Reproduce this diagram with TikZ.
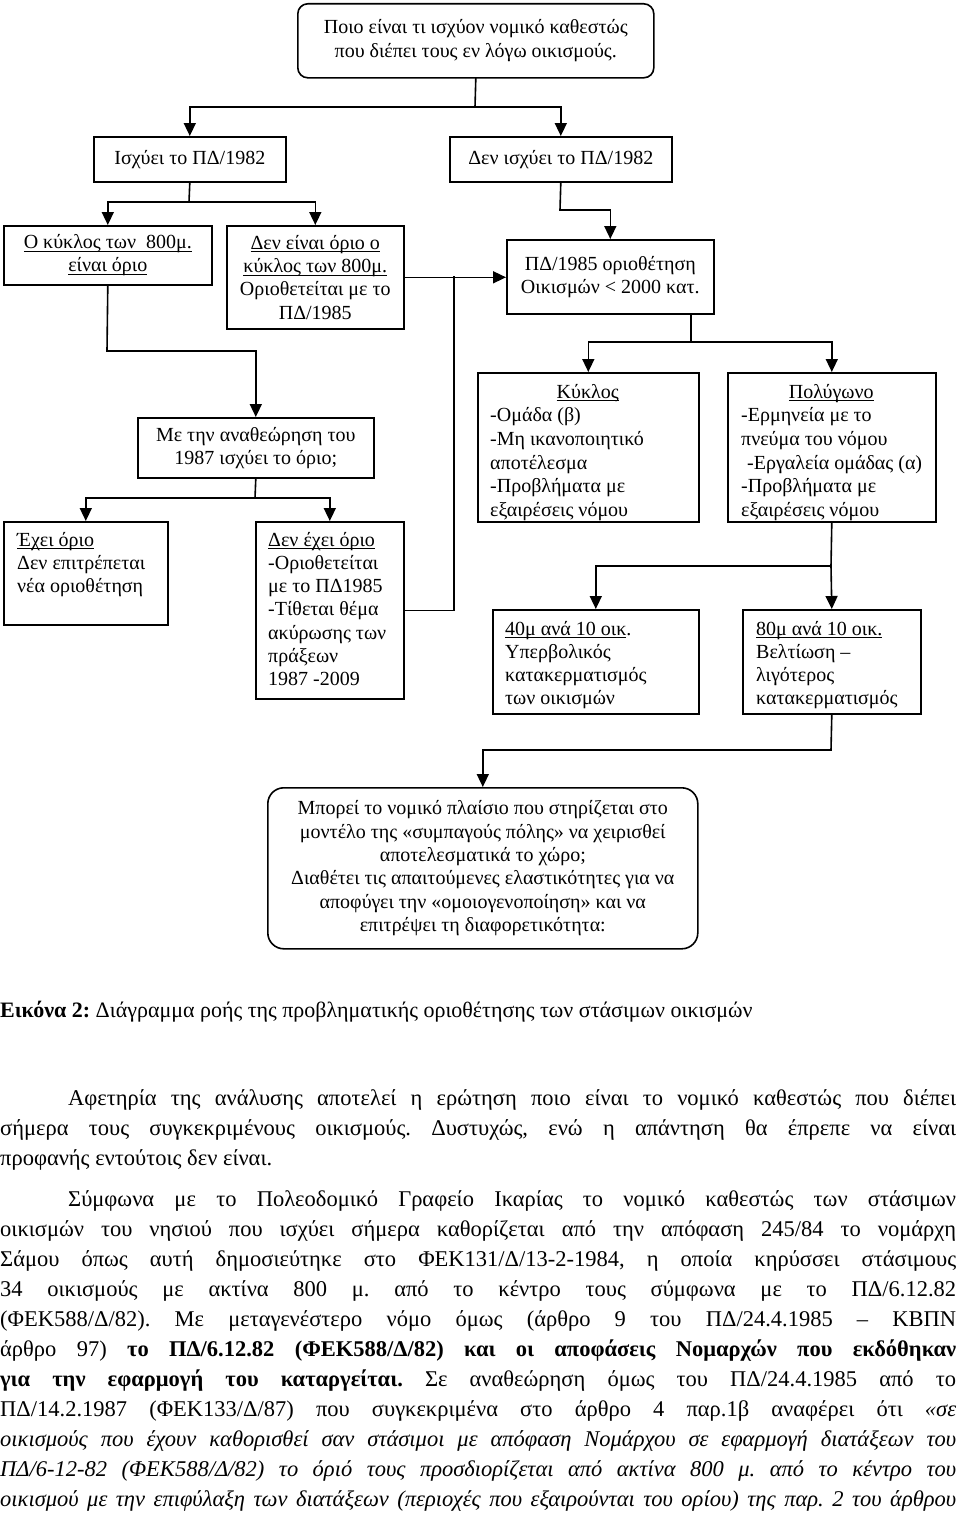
\documentclass[tikz,border=0pt]{standalone}
\usepackage{fontspec}
\setmainfont{Liberation Serif}
\usetikzlibrary{arrows.meta}
\frenchspacing
\newcommand\ulx[1]{\leavevmode\setbox0\hbox{#1}\rlap{\rule[-3pt]{\wd0}{1.1pt}}\box0}
\newcommand\jl[1]{\makebox[956pt][s]{#1}}
\tikzset{
  bx/.style={draw, line width=1.6pt, inner sep=0pt, anchor=north west, align=center, font=\fontsize{20}{23.2}\selectfont},
  tx/.style={inner sep=0pt, anchor=north west, align=left, font=\fontsize{20}{23.2}\selectfont},
  txk/.style={inner sep=0pt, anchor=north west, align=left, font=\fontsize{20}{23.6}\selectfont},
  con/.style={line width=1.6pt, line cap=rect},
  arr/.style={line width=1.6pt, -{Triangle[length=13pt,width=12pt]}},
  para/.style={inner sep=0pt, anchor=north west, align=left, font=\fontsize{22.5}{30}\selectfont},
}
\begin{document}
\begin{tikzpicture}[x=1pt,y=-1pt]
\useasboundingbox[fill=white] (0,0) rectangle (960,1520);
% boxes
\node[bx, rounded corners=10pt, minimum width=356pt, minimum height=74pt, font=\fontsize{20}{24}\selectfont] (tb) at (297,3) {Ποιο είναι τι ισχύον νομικό καθεστώς\\που διέπει τους εν λόγω οικισμούς.};
\node[bx, minimum width=192pt, minimum height=45pt] (isx) at (93,136) {Ισχύει το ΠΔ/1982};
\node[bx, minimum width=222pt, minimum height=45pt] (den) at (449,136) {Δεν ισχύει το ΠΔ/1982};
\node[bx, minimum width=208pt, minimum height=59pt] (k800) at (3,225) {\ulx{Ο κύκλος των\ \ 800μ.}\\\ulx{είναι όριο}};
\node[bx, minimum width=177pt, minimum height=103pt] (notl) at (226,225) {\ulx{Δεν είναι όριο ο}\\\ulx{κύκλος των 800μ.}\\Οριοθετείται με το\\ΠΔ/1985};
\node[bx, minimum width=207pt, minimum height=74pt] (pd85) at (506,239) {ΠΔ/1985 οριοθέτηση\\Οικισμών < 2000 κατ.};
\node[bx, minimum width=236pt, minimum height=60pt] (ana) at (137,417) {Με την αναθεώρηση του\\1987 ισχύει το όριο;};
\node[bx, minimum width=164pt, minimum height=103pt] (exo) at (3,521) {};
\node[tx] (exot) at (17,529.8) {\strut\ulx{Έχει όριο}\\Δεν επιτρέπεται\\νέα οριοθέτηση};
\node[bx, minimum width=148pt, minimum height=177pt] (dnexo) at (255,521) {};
\node[tx] (dnexot) at (268,529.8) {\strut\ulx{Δεν έχει όριο}\\-Οριοθετείται\\με το ΠΔ1985\\-Τίθεται θέμα\\ακύρωσης των\\πράξεων\\1987 -2009};
\node[bx, minimum width=221pt, minimum height=149pt] (kyk) at (477,372) {};
\node[bx, minimum width=208pt, minimum height=149pt] (pol) at (727,372) {};
\begin{scope}
\clip (kyk.north west) rectangle (kyk.south east);
\node[txk] (kykt) at (490,381.5) {\strut\makebox[195pt]{\ulx{Κύκλος}}\\-Ομάδα (β)\\-Μη ικανοποιητικό\\αποτέλεσμα\\-Προβλήματα με\\εξαιρέσεις νόμου};
\end{scope}
\begin{scope}
\clip (pol.north west) rectangle (pol.south east);
\node[txk] (polt) at (741,381.5) {\strut\makebox[180pt]{\ulx{Πολύγωνο}}\\-Ερμηνεία με το\\πνεύμα του νόμου\\\hspace*{6pt}-Εργαλεία ομάδας (α)\\-Προβλήματα με\\εξαιρέσεις νόμου};
\end{scope}
\node[bx, minimum width=206pt, minimum height=104pt] (m40) at (492,609) {};
\node[tx] (m40t) at (505,618.8) {\strut\ulx{40μ ανά 10 οικ}.\\Υπερβολικός\\κατακερματισμός\\των οικισμών};
\node[bx, minimum width=178pt, minimum height=104pt] (m80) at (742,609) {};
\node[tx] (m80t) at (756,618.8) {\strut\ulx{80μ ανά 10 οικ.}\\Βελτίωση –\\λιγότερος\\κατακερματισμός};
\node[bx, rounded corners=16pt, minimum width=430pt, minimum height=161pt, font=\fontsize{20}{23.4}\selectfont] (bot) at (267,787) {Μπορεί το νομικό πλαίσιο που στηρίζεται στο\\μοντέλο της «συμπαγούς πόλης» να χειρισθεί\\αποτελεσματικά το χώρο;\\Διαθέτει τις απαιτούμενες ελαστικότητες για να\\αποφύγει την «ομοιογενοποίηση» και να\\επιτρέψει τη διαφορετικότητα:};
% junctions
\coordinate (j1) at (475,107);
\coordinate (j2) at (189,202);
\coordinate (j3) at (560,210);
\coordinate (j4) at (107,351);
\coordinate (j5) at (454,276.5);
\coordinate (j6) at (691,342);
\coordinate (j7) at (255,498);
\coordinate (j8) at (831,566);
\coordinate (j9) at (831,750);
% connectors
\draw[con] (tb.south) -- (j1);
\draw[arr] (j1) -| (isx.north);
\draw[arr] (j1) -| (den.north);
\draw[con] (isx.south) -- (j2);
\draw[arr] (j2) -| (k800.north);
\draw[arr] (j2) -| (notl.north);
\draw[con] (den.south) -- (j3);
\draw[arr] (j3) -| (pd85.north);
\draw[arr] (notl.east) -- (notl.east -| pd85.west);
\draw[con] (dnexo.east) -| (j5);
\draw[con] (k800.south) -- (j4);
\draw[arr] (j4) -| (ana.north);
\draw[con] (ana.south) -- (j7);
\draw[arr] (j7) -| (exo.north);
\draw[arr] (j7) -| (dnexo.north);
\draw[con] (pd85.south -| j6) -- (j6);
\draw[arr] (j6) -| (kyk.north);
\draw[arr] (j6) -| (pol.north);
\draw[con] (pol.south) -- (j8);
\draw[arr] (j8) -| (m40.north);
\draw[arr] (j8) -- (m80.north);
\draw[con] (m80.south) -- (j9);
\draw[arr] (j9) -| (bot.north);
% text below
\node[inner sep=0pt, anchor=base west, font=\fontsize{22}{26}\selectfont] (cap) at (0,1017) {\textbf{Εικόνα 2:} Διάγραμμα ροής της προβληματικής οριοθέτησης των στάσιμων οικισμών};
\node[para] (p1) at (0,1084) {\strut\jl{\hspace*{68pt}Αφετηρία της ανάλυσης αποτελεί η ερώτηση ποιο είναι το νομικό καθεστώς που διέπει}\\
\jl{σήμερα τους συγκεκριμένους οικισμούς. Δυστυχώς, ενώ η απάντηση θα έπρεπε να είναι}\\
προφανής εντούτοις δεν είναι.};
\node[para] (p2) at (0,1185) {\strut\jl{\hspace*{68pt}Σύμφωνα με το Πολεοδομικό Γραφείο Ικαρίας το νομικό καθεστώς των στάσιμων}\\
\jl{οικισμών του νησιού που ισχύει σήμερα καθορίζεται από την απόφαση 245/84 το νομάρχη}\\
\jl{Σάμου όπως αυτή δημοσιεύτηκε στο ΦΕΚ131/Δ/13-2-1984, η οποία κηρύσσει στάσιμους}\\
\jl{34 οικισμούς με ακτίνα 800 μ. από το κέντρο τους σύμφωνα με το ΠΔ/6.12.82}\\
\jl{(ΦΕΚ588/Δ/82). Με μεταγενέστερο νόμο όμως (άρθρο 9 του ΠΔ/24.4.1985 – ΚΒΠΝ}\\
\jl{άρθρο 97) \textbf{το ΠΔ/6.12.82 (ΦΕΚ588/Δ/82) και οι αποφάσεις Νομαρχών που εκδόθηκαν}}\\
\jl{\textbf{για την εφαρμογή του καταργείται.} Σε αναθεώρηση όμως του ΠΔ/24.4.1985 από το}\\
\jl{ΠΔ/14.2.1987 (ΦΕΚ133/Δ/87) που συγκεκριμένα στο άρθρο 4 παρ.1β αναφέρει ότι \textit{«σε}}\\
\jl{\textit{οικισμούς που έχουν καθορισθεί σαν στάσιμοι με απόφαση Νομάρχου σε εφαρμογή διατάξεων του}}\\
\jl{\textit{ΠΔ/6-12-82 (ΦΕΚ588/Δ/82) το όριό τους προσδιορίζεται από ακτίνα 800 μ. από το κέντρο του}}\\
\jl{\textit{οικισμού με την επιφύλαξη των διατάξεων (περιοχές που εξαιρούνται του ορίου) της παρ. 2 του άρθρου}}};
\end{tikzpicture}
\end{document}
